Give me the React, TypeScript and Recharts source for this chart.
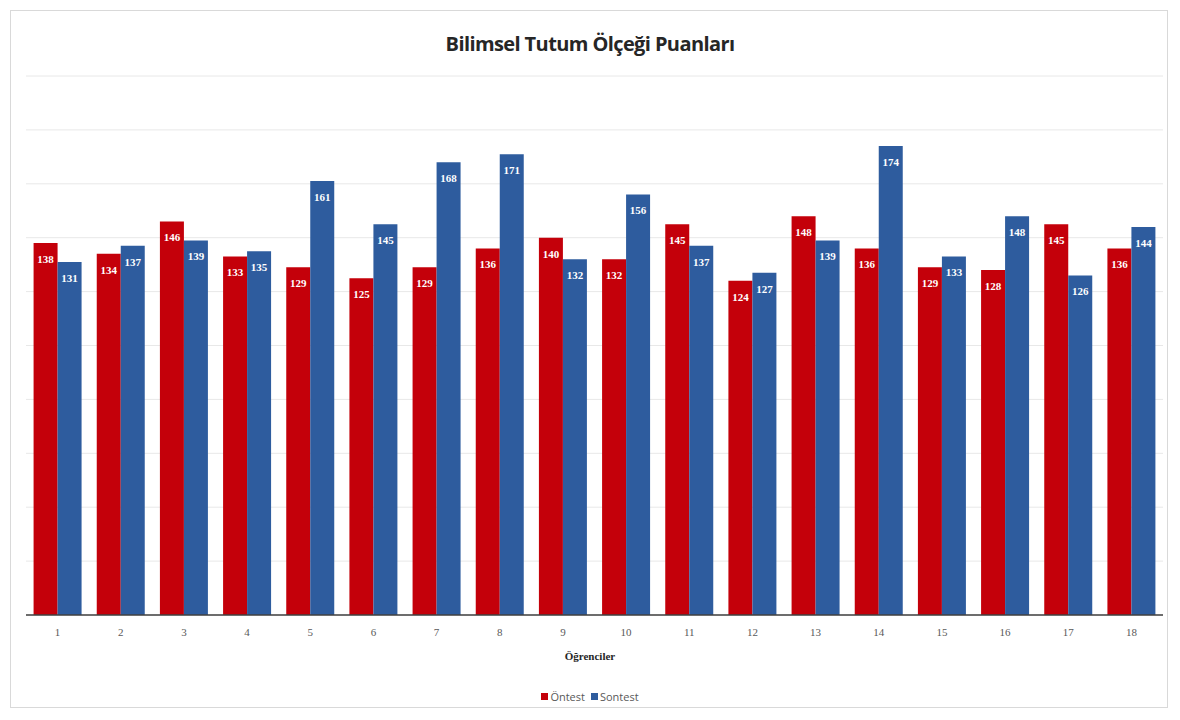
import React from 'react';
import { BarChart, Bar, XAxis, YAxis, CartesianGrid, LabelList } from 'recharts';

// Bilimsel Tutum Ölçeği – ön test / son test puanları (18 öğrenci)
const students = ['1', '2', '3', '4', '5', '6', '7', '8', '9', '10', '11', '12', '13', '14', '15', '16', '17', '18'];
const ontest = [138, 134, 146, 133, 129, 125, 129, 136, 140, 132, 145, 124, 148, 136, 129, 128, 145, 136];
const sontest = [131, 137, 139, 135, 161, 145, 168, 171, 132, 156, 137, 127, 139, 174, 133, 148, 126, 144];
const yTicks = [0, 20, 40, 60, 80, 100, 120, 140, 160, 180, 200];

const RED = '#c4000a';
const BLUE = '#2e5c9e';

const data = students.map((s, i) => ({ name: s, ontest: ontest[i], sontest: sontest[i] }));

const labelStyle = {
  fill: '#ffffff',
  fontSize: 11,
  fontWeight: 700,
  fontFamily: '"Liberation Serif", serif',
};

export default function App() {
  return (
    <div style={{ position: 'absolute', left: 0, top: 0, width: 1180, height: 720, background: '#fff' }}>
      {/* chart frame */}
      <div
        style={{
          position: 'absolute', left: 10, top: 10, width: 1158, height: 698,
          border: '1px solid #d9d9d9', boxSizing: 'border-box',
        }}
      />
      <div
        style={{
          position: 'absolute', left: 0, top: 30, width: 1180, textAlign: 'center',
          fontFamily: '"Open Sans", sans-serif', fontWeight: 700, fontSize: 20, color: '#262626',
          letterSpacing: -0.6,
        }}
      >
        Bilimsel Tutum Ölçeği Puanları
      </div>

      <div style={{ position: 'absolute', left: 0, top: 0 }}>
        <BarChart
          width={1180}
          height={720}
          data={data}
          margin={{ top: 76, right: 17, bottom: 75, left: 26 }}
          barCategoryGap="12%"
          barGap={0}
        >
          <CartesianGrid vertical={false} stroke="#e8e8e8" />
          <YAxis hide domain={[0, 200]} ticks={yTicks} />
          <XAxis
            dataKey="name"
            height={30}
            tickLine={false}
            axisLine={{ stroke: '#404040', strokeWidth: 1.5 }}
            tickMargin={7}
            tick={{ fontSize: 11, fill: '#595959', fontFamily: '"Liberation Serif", serif' }}
            interval={0}
          />
          <Bar dataKey="ontest" fill={RED} isAnimationActive={false}>
            <LabelList dataKey="ontest" position="insideTop" offset={12} style={labelStyle} />
          </Bar>
          <Bar dataKey="sontest" fill={BLUE} isAnimationActive={false}>
            <LabelList dataKey="sontest" position="insideTop" offset={12} style={labelStyle} />
          </Bar>
        </BarChart>
      </div>

      {/* axis title */}
      <div
        style={{
          position: 'absolute', left: 0, top: 650, width: 1180, textAlign: 'center',
          fontFamily: '"Liberation Serif", serif', fontWeight: 700, fontSize: 11, color: '#262626',
        }}
      >
        Öğrenciler
      </div>

      {/* legend */}
      <div
        style={{
          position: 'absolute', left: 0, top: 689, width: 1180, display: 'flex', justifyContent: 'center',
          gap: 6, fontFamily: '"Open Sans", sans-serif', fontSize: 11, color: '#595959',
        }}
      >
        <span style={{ display: 'flex', alignItems: 'center', gap: 2 }}>
          <span style={{ width: 7, height: 7, background: RED, display: 'inline-block' }} />
          Öntest
        </span>
        <span style={{ display: 'flex', alignItems: 'center', gap: 2 }}>
          <span style={{ width: 7, height: 7, background: BLUE, display: 'inline-block' }} />
          Sontest
        </span>
      </div>
    </div>
  );
}
